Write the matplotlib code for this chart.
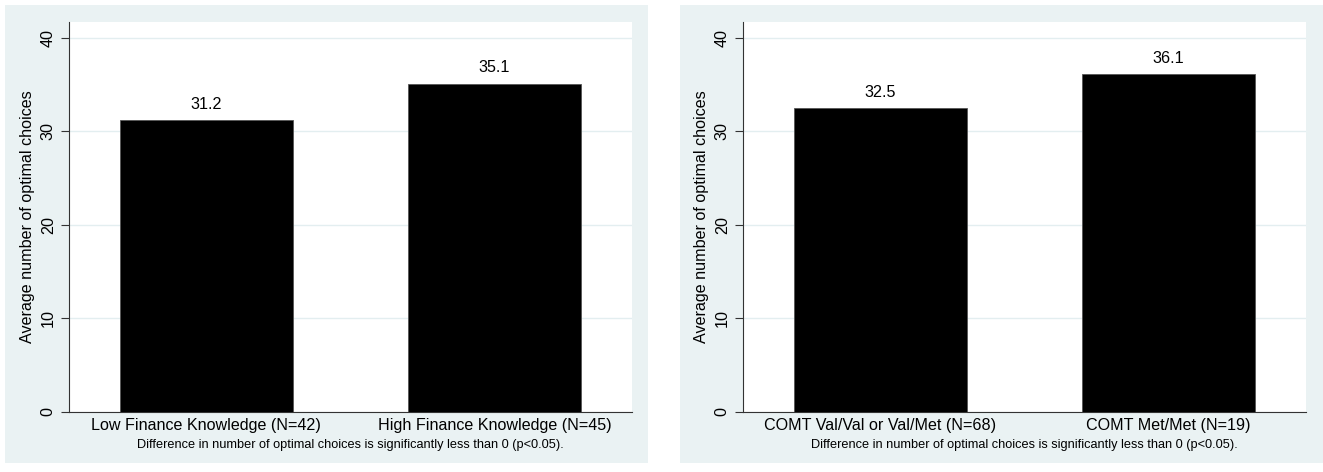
import matplotlib
matplotlib.use("Agg")
import matplotlib.pyplot as plt
from matplotlib.patches import Rectangle

plt.rcParams['font.family'] = ['Liberation Sans', 'DejaVu Sans']

# group means of optimal choices
left_groups = ['Low Finance Knowledge (N=42)', 'High Finance Knowledge (N=45)']
left_means = [31.2, 35.1]
right_groups = ['COMT Val/Val or Val/Met (N=68)', 'COMT Met/Met (N=19)']
right_means = [32.5, 36.1]
yticks = [0, 10, 20, 30, 40]
ylabel = 'Average number of optimal choices'
note = 'Difference in number of optimal choices is significantly less than 0 (p<0.05).'

W, H = 1323, 472
bg = '#eaf2f3'
fs = 11.6
fig = plt.figure(figsize=(W / 100, H / 100), dpi=100, facecolor='white')


def px_rect(x0, y0, x1, y1):
    # pixel box (top-left origin) -> figure fraction [l, b, w, h]
    return [x0 / W, 1 - y1 / H, (x1 - x0) / W, (y1 - y0) / H]


def panel(bg_box, ax_box, groups, means):
    l, b, w, h = px_rect(*bg_box)
    fig.patches.append(Rectangle((l, b), w, h, transform=fig.transFigure,
                                 facecolor=bg, edgecolor='none', zorder=-10))
    ax = fig.add_axes(px_rect(*ax_box))
    ax.set_facecolor('white')
    x = range(len(groups))
    bars = ax.bar(x, means, width=0.6, color='black', edgecolor='#555555', linewidth=0.6, zorder=3)
    for rect, v in zip(bars, means):
        ax.annotate(f'{v:.1f}', (rect.get_x() + rect.get_width() / 2, v),
                    xytext=(0, 6), textcoords='offset points',
                    ha='center', va='bottom', fontsize=fs)
    ax.set_xlim(-0.477, 1.477)
    ax.set_ylim(0, 41.7)
    ax.set_yticks(yticks)
    ax.set_yticklabels([str(t) for t in yticks], rotation=90, va='center', fontsize=fs)
    ax.set_xticks(list(x))
    ax.set_xticklabels(groups, fontsize=fs)
    ax.tick_params(axis='x', length=0, pad=4.5)
    ax.tick_params(axis='y', length=6, width=0.8, color='#333333', pad=3.5)
    ax.grid(axis='y', color='#e3eef0', linewidth=1.0, zorder=0)
    ax.set_axisbelow(True)
    for s in ['top', 'right']:
        ax.spines[s].set_visible(False)
    for s in ['left', 'bottom']:
        ax.spines[s].set_color('#333333')
        ax.spines[s].set_linewidth(0.8)
    ax.set_ylabel(ylabel, fontsize=fs, labelpad=4)
    ax.text(0.5, -0.085, note, transform=ax.transAxes, ha='center', va='center', fontsize=9.2)
    return ax


panel((5, 5, 648, 463), (69, 22, 632, 412), left_groups, left_means)
panel((680, 5, 1323, 463), (743, 22, 1306, 412), right_groups, right_means)

fig.savefig('out.png', dpi=100, facecolor='white')
